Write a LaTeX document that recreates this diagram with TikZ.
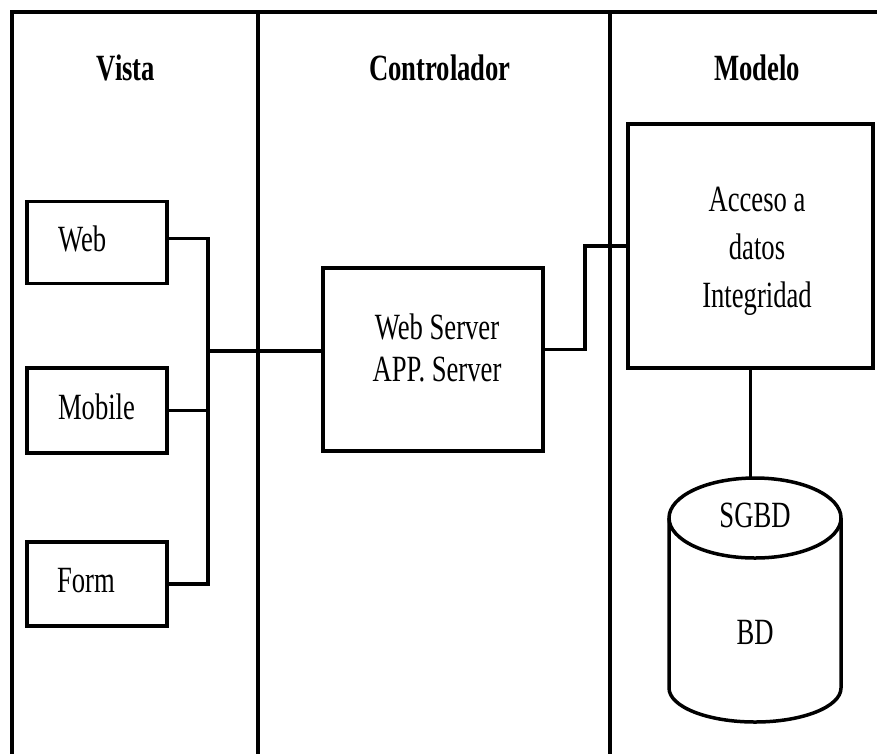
\documentclass[tikz,border=0pt]{standalone}
\usepackage{fontspec}
\usepackage{graphicx}
\setmainfont{Liberation Serif}
\usetikzlibrary{calc}

% condensed serif text block, centred lines; optional arg = line spacing
\newcommand\narrowtext[2][42]{\scalebox{0.72}[1]{\fontsize{37}{#1}\selectfont\begin{tabular}{@{}c@{}}#2\end{tabular}}}

\tikzset{
  frameline/.style={line width=4pt, line cap=rect},
  box/.style={draw, line width=3.5pt, inner sep=0pt, fill=white},
  wire/.style={line width=3.5pt, line join=miter},
  cyl/.style={line width=3.5pt, line join=round},
  lbl/.style={inner sep=0pt, outer sep=0pt},
}

\begin{document}
\begin{tikzpicture}[x=1pt, y=-1pt]
  \useasboundingbox (0,0) rectangle (877,753);
  \clip (0,0) rectangle (877,753);

  % swimlane frame
  \draw[frameline] (12,760) -- (12,12) -- (890,12);
  \draw[frameline] (258,12) -- (258,760);
  \draw[frameline] (610,12) -- (610,760);

  % lane headers
  \node[lbl] (hvista) at (126,72) {\narrowtext{\bfseries Vista}};
  \node[lbl] (hctrl)  at (440,72) {\narrowtext{\bfseries Controlador}};
  \node[lbl] (hmod)   at (757,72) {\narrowtext{\bfseries Modelo}};

  % view clients
  \node[box, minimum width=140pt, minimum height=82pt] (web)    at (97,242.5) {};
  \node[box, minimum width=140pt, minimum height=85pt] (mobile) at (97,410.5) {};
  \node[box, minimum width=140pt, minimum height=84pt] (form)   at (97,584) {};
  \node[lbl, anchor=west] (tweb)    at (58,243) {\narrowtext{Web}};
  \node[lbl, anchor=west] (tmobile) at (58,411) {\narrowtext{Mobile}};
  \node[lbl, anchor=west] (tform)   at (57,584) {\narrowtext{Form}};

  % controller
  \node[box, minimum width=220pt, minimum height=183pt] (srv) at (433,359.5) {};
  \node[lbl] (tsrv) at (437,352) {\narrowtext{Web Server\\APP. Server}};

  % model
  \node[box, minimum width=245pt, minimum height=244pt] (acc) at (750.5,246) {};
  \node[lbl] (tacc) at (757,250) {\narrowtext[48]{Acceso a\\datos\\Integridad}};

  % bus joining the clients to the server
  \coordinate (bus) at (208,351);
  \draw[wire] ([yshift=4pt]web.east) -| (bus |- form.east) -- (form.east);
  \draw[wire] (mobile.east) -- (mobile.east -| bus);
  \draw[wire] (bus) -- (bus -| srv.west);

  % server to data access
  \draw[wire] ([yshift=10pt]srv.east) -- ++(40,0) |- (acc.west);

  % database cylinder
  \coordinate (dbtop) at (755,478);
  \draw[wire] (acc.south) -- (acc.south |- dbtop);
  \filldraw[cyl, fill=white] (669,518) -- (669,688)
      arc[start angle=180, end angle=0, x radius=86, y radius=34] -- (841,518);
  \filldraw[cyl, fill=white] (755,518) ellipse[x radius=86, y radius=40];
  \node[lbl] (tsgbd) at (755,519) {\narrowtext{SGBD}};
  \node[lbl] (tbd)   at (755,636) {\narrowtext{BD}};
\end{tikzpicture}
\end{document}
